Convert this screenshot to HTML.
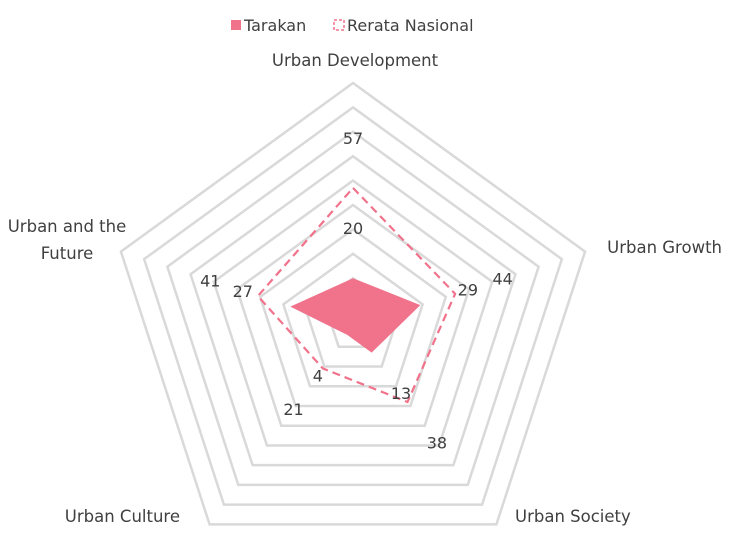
<!DOCTYPE html>
<html><head><meta charset="utf-8"><style>
body{margin:0;background:#fff;}
svg{display:block;font-family:"DejaVu Sans","Liberation Sans",sans-serif;}
</style></head><body>
<svg width="732" height="545" viewBox="0 0 732 545" xmlns="http://www.w3.org/2000/svg">
<g id="rings"></g>
<g id="series"></g>
<g id="labels" font-size="16" fill="#404040"></g>
<g font-size="16" fill="#404040">
  <rect x="231" y="20" width="10" height="10" fill="#f0728b"/>
  <text x="244" y="31">Tarakan</text>
  <rect x="334" y="20" width="10" height="10" fill="none" stroke="#f0728b" stroke-width="1.5" stroke-dasharray="3,2"/>
  <text x="347" y="31">Rerata Nasional</text>
</g>
<g font-size="16.5" fill="#404040">
  <text x="355" y="66" text-anchor="middle">Urban Development</text>
  <text x="722" y="253" text-anchor="end">Urban Growth</text>
  <text x="515" y="522">Urban Society</text>
  <text x="180" y="522" text-anchor="end">Urban Culture</text>
  <text x="67" y="232" text-anchor="middle">Urban and the</text>
  <text x="67" y="259" text-anchor="middle">Future</text>
</g>
</svg>
<script>
const categories = ["Urban Development","Urban Growth","Urban Society","Urban Culture","Urban and the Future"];
const tarakan = [20, 29, 13, 4, 27];
const nasional = [57, 44, 38, 21, 41];
const ringTicks = [10,20,30,40,50,60,70,80,90,100];
const maxVal = 100;
const cx = 353, cy = 327, R = 244;
const NS = "http://www.w3.org/2000/svg";
function pt(i, v, extra){ const a = -Math.PI/2 + i*2*Math.PI/categories.length; const r = v/maxVal*R + (extra||0); return [cx + r*Math.cos(a), cy + r*Math.sin(a)]; }
function poly(vals){ return vals.map((v,i)=>pt(i,v).join(",")).join(" "); }
const rings = document.getElementById("rings");
ringTicks.forEach(t=>{
  const p = document.createElementNS(NS,"polygon");
  
  
  p.setAttribute("points", poly(categories.map(()=>t)));
  p.setAttribute("fill","none"); p.setAttribute("stroke","#d9d9d9"); p.setAttribute("stroke-width","2.5");
  rings.appendChild(p);
});
const series = document.getElementById("series");
const a = document.createElementNS(NS,"polygon");


a.setAttribute("points", poly(tarakan)); a.setAttribute("fill","#f0728b");
series.appendChild(a);
const b = document.createElementNS(NS,"polygon");


b.setAttribute("points", poly(nasional)); b.setAttribute("fill","none");
b.setAttribute("stroke","#f0728b"); b.setAttribute("stroke-width","2.2"); b.setAttribute("stroke-dasharray","8,5");
series.appendChild(b);
const labels = document.getElementById("labels");
[[tarakan,'tarakan'],[nasional,'nasional']].forEach(([vals,nm])=>{
  vals.forEach((v,i)=>{
    const [x,y] = pt(i,v,50);
    const t = document.createElementNS(NS,"text");
    
    
    t.setAttribute("x",x); t.setAttribute("y",y+6); t.setAttribute("text-anchor","middle");
    t.textContent = v; labels.appendChild(t);
  });
});
</script>
</body></html>
